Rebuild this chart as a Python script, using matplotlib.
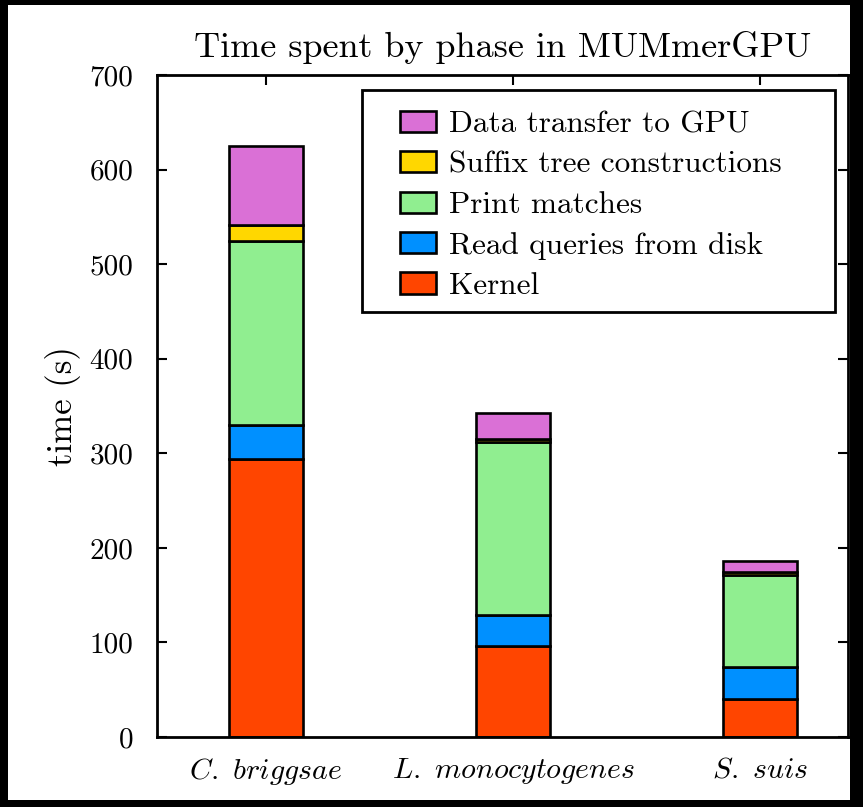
import matplotlib
matplotlib.use("Agg")
import matplotlib.pyplot as plt
from matplotlib.patches import Rectangle
import numpy as np

plt.rcParams['font.family'] = ['cmr10', 'DejaVu Serif']
plt.rcParams['mathtext.fontset'] = 'cm'
plt.rcParams['axes.formatter.use_mathtext'] = True

categories = [r'$\mathit{C.\ briggsae}$', r'$\mathit{L.\ monocytogenes}$', r'$\mathit{S.\ suis}$']
phases = ['Kernel', 'Read queries from disk', 'Print matches',
          'Suffix tree constructions', 'Data transfer to GPU']
kernel = [294, 96, 40]
read_queries = [36, 33, 34]
print_matches = [194, 183, 97]
suffix_tree = [17, 3, 4]
data_transfer = [84, 28, 11]
colors = ['#FF4500', '#0090FF', '#90EE90', '#FFD700', '#DA70D6']
yticks = [0, 100, 200, 300, 400, 500, 600, 700]

W, H = 863, 807
fig = plt.figure(figsize=(W / 100, H / 100), dpi=100, facecolor='black')
bg = Rectangle((8 / W, 7 / H), (850 - 8) / W, (802 - 7) / H,
               transform=fig.transFigure, facecolor='white',
               edgecolor='none', zorder=-10)
fig.add_artist(bg)
ax = fig.add_axes([157 / W, 1 - 737 / H, (848 - 157) / W, (737 - 75) / H])
ax.set_zorder(1)
ax.set_facecolor('white')

x = np.arange(len(categories))
series = [kernel, read_queries, print_matches, suffix_tree, data_transfer]
bottom = np.zeros(len(categories))
handles = []
for name, vals, c in zip(phases, series, colors):
    b = ax.bar(x, vals, width=0.30, bottom=bottom, color=c, edgecolor='black',
               linewidth=1.9, label=name, zorder=2)
    handles.append(b)
    bottom += np.array(vals)

ax.set_xlim(-0.441, 2.356)
ax.set_ylim(0, 700)
ax.set_xticks(x)
ax.set_xticklabels(categories, fontsize=21.5)
ax.set_yticks(yticks)
ax.set_yticklabels([str(t) for t in yticks], fontsize=21)
ax.tick_params(axis='both', direction='in', length=7, width=1.5,
               top=True, right=True, color='black')
ax.tick_params(axis='x', pad=14)
ax.tick_params(axis='y', pad=17)
for s in ax.spines.values():
    s.set_linewidth(2)
    s.set_zorder(3)

ax.set_ylabel('time (s)', fontsize=25, labelpad=6)
ax.set_title('Time spent by phase in MUMmerGPU', fontsize=26, pad=13)

# legend frame box
ax.add_patch(Rectangle((0.2967, 0.642), 0.981 - 0.2967, 0.9773 - 0.642,
                       transform=ax.transAxes, facecolor='white',
                       edgecolor='black', linewidth=2, zorder=4,
                       clip_on=False))
leg = ax.legend(handles[::-1], phases[::-1], loc='upper left',
                bbox_to_anchor=(394 / W, 1 - 104 / H),
                bbox_transform=fig.transFigure,
                fontsize=22.5, frameon=False, borderpad=0.2, labelspacing=0.4,
                handlelength=1.15, handleheight=0.66, handletextpad=0.42,
                borderaxespad=0)
leg.set_zorder(5)

fig.savefig('out.png', dpi=100, facecolor=fig.get_facecolor())
